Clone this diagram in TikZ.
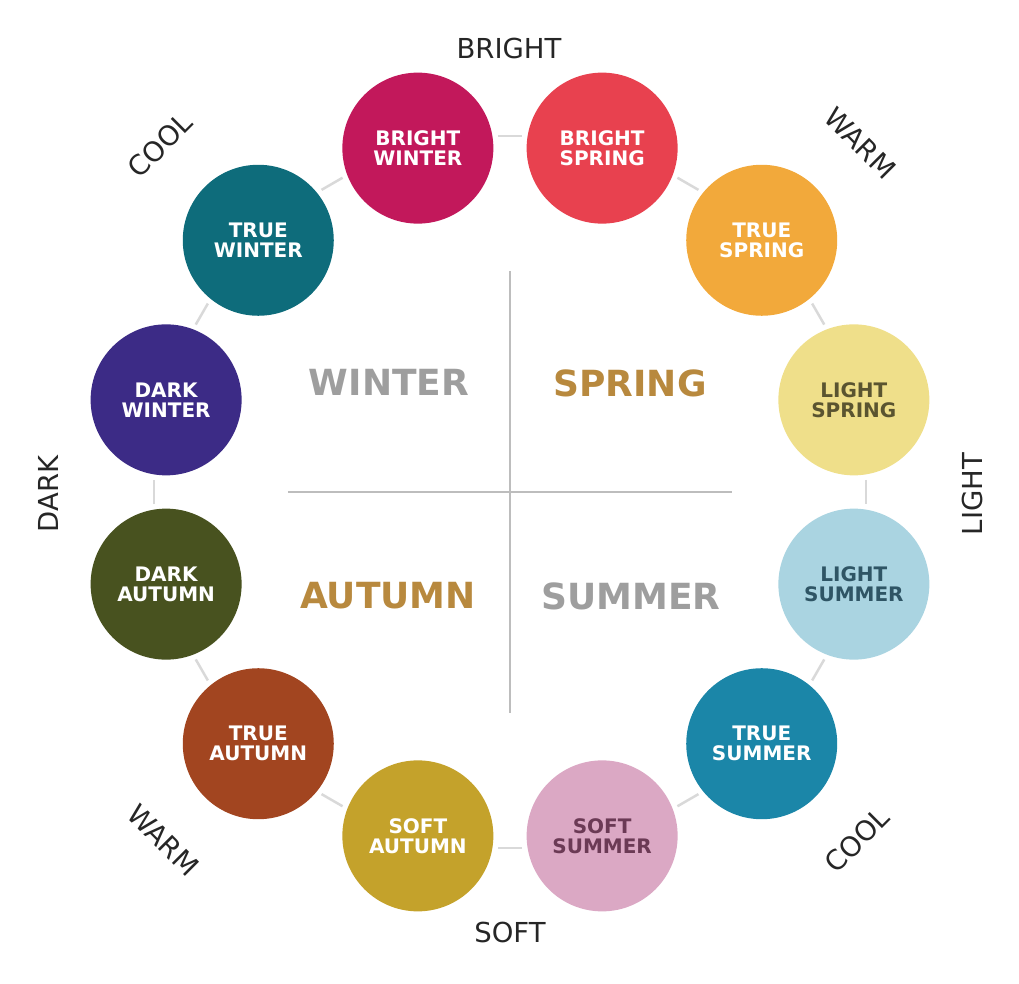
\documentclass[tikz,border=0pt]{standalone}
\usepackage{fontspec}
\setmainfont{DejaVu Sans}
\usepackage{xcolor}
\usetikzlibrary{positioning,calc}

\definecolor{brightwinter}{HTML}{C2185B}
\definecolor{brightspring}{HTML}{E8414F}
\definecolor{truespring}{HTML}{F2A93B}
\definecolor{lightspring}{HTML}{EFDF8A}
\definecolor{lightsummer}{HTML}{AAD4E1}
\definecolor{truesummer}{HTML}{1B86A8}
\definecolor{softsummer}{HTML}{DBA8C4}
\definecolor{softautumn}{HTML}{C4A22B}
\definecolor{trueautumn}{HTML}{A24520}
\definecolor{darkautumn}{HTML}{48521F}
\definecolor{darkwinter}{HTML}{3C2B86}
\definecolor{truewinter}{HTML}{0E6C7B}
\definecolor{olivetext}{HTML}{5A5430}
\definecolor{bluetext}{HTML}{2F5565}
\definecolor{mauvetext}{HTML}{6B3A55}
\definecolor{linkgray}{HTML}{D9D9D9}
\definecolor{crossgray}{HTML}{BDBDBD}
\definecolor{quadgray}{HTML}{9E9E9E}
\definecolor{quadgold}{HTML}{B8893E}
\definecolor{textdark}{HTML}{262626}

\tikzset{
    season/.style={circle, minimum size=151pt, inner sep=0pt, align=center, text=white,
        font=\bfseries\fontsize{20}{20}\selectfont},
    link/.style={draw=linkgray, line width=2.5pt, shorten <=80pt, shorten >=80pt},
    crossline/.style={draw=crossgray, line width=2.5pt},
    quadlabel/.style={font=\bfseries\fontsize{36}{40}\selectfont},
    outerlabel/.style={text=textdark, inner sep=1pt, font=\fontsize{27.5}{32}\selectfont}
}

\begin{document}
\begin{tikzpicture}[x=1pt, y=1pt]
    \useasboundingbox (-510,492) rectangle (509,-492);
    % Cross in the middle
    \coordinate (crosstop) at (0,221);
    \coordinate (crossbottom) at (0,-221);
    \coordinate (crossleft) at (-222,0);
    \coordinate (crossright) at (222,0);
    \draw[crossline] (crosstop) -- (crossbottom);
    \draw[crossline] (crossleft) -- (crossright);
    % Quadrant labels
    \node[quadlabel, text=quadgray] (winter) at (-121,110) {WINTER};
    \node[quadlabel, text=quadgold] (spring) at (120,109) {SPRING};
    \node[quadlabel, text=quadgold] (autumn) at (-122,-104) {AUTUMN};
    \node[quadlabel, text=quadgray] (summer) at (121,-104) {SUMMER};
    % Season circles
    \node[season, fill=brightwinter] (bwinter) at (105:356) {BRIGHT\\WINTER};
    \node[season, fill=brightspring] (bspring) at (75:356) {BRIGHT\\SPRING};
    \node[season, fill=truespring] (tspring) at (45:356) {TRUE\\SPRING};
    \node[season, fill=lightspring, text=olivetext] (lspring) at (15:356) {LIGHT\\SPRING};
    \node[season, fill=lightsummer, text=bluetext] (lsummer) at (-15:356) {LIGHT\\SUMMER};
    \node[season, fill=truesummer] (tsummer) at (-45:356) {TRUE\\SUMMER};
    \node[season, fill=softsummer, text=mauvetext] (ssummer) at (-75:356) {SOFT\\SUMMER};
    \node[season, fill=softautumn] (sautumn) at (-105:356) {SOFT\\AUTUMN};
    \node[season, fill=trueautumn] (tautumn) at (-135:356) {TRUE\\AUTUMN};
    \node[season, fill=darkautumn] (dautumn) at (-165:356) {DARK\\AUTUMN};
    \node[season, fill=darkwinter] (dwinter) at (165:356) {DARK\\WINTER};
    \node[season, fill=truewinter] (twinter) at (135:356) {TRUE\\WINTER};
    % Links between neighbours
    \foreach \a/\b/\m in {bwinter/bspring/90, bspring/tspring/60, tspring/lspring/30,
        lspring/lsummer/0, lsummer/tsummer/-30, tsummer/ssummer/-60, ssummer/sautumn/-90,
        sautumn/tautumn/-120, tautumn/dautumn/-150, dautumn/dwinter/180,
        dwinter/twinter/150, twinter/bwinter/120}
        \draw[link] ($(\a)+(\m:12)$) -- ($(\b)+(\m:12)$);
    % Outer labels
    \node[outerlabel] (bright) at (-1,444) {BRIGHT};
    \node[outerlabel] (soft) at (0,-440) {SOFT};
    \node[outerlabel, rotate=90] (dark) at (-462,-2) {DARK};
    \node[outerlabel, rotate=90] (light) at (462,-2) {LIGHT};
    \node[outerlabel, rotate=45] (cooltop) at (-350,347) {COOL};
    \node[outerlabel, rotate=-45] (warmtop) at (350,349) {WARM};
    \node[outerlabel, rotate=-45] (warmbottom) at (-347,-348) {WARM};
    \node[outerlabel, rotate=45] (coolbottom) at (347,-348) {COOL};
\end{tikzpicture}
\end{document}
